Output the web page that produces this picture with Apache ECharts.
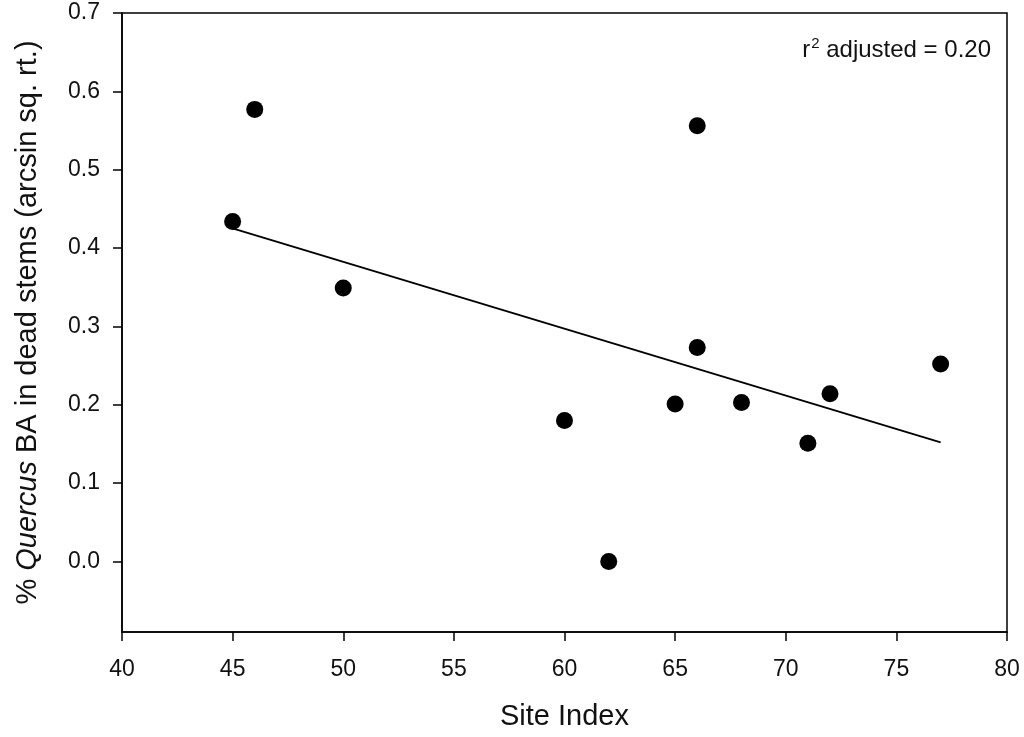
<!DOCTYPE html>
<html>
<head>
<meta charset="utf-8">
<script src="https://cdn.jsdelivr.net/npm/echarts@6/dist/echarts.min.js"></script>
<style>html,body{margin:0;padding:0;background:#fff;}#c{width:1024px;height:737px;}</style>
</head>
<body>
<div id="c"></div>
<script>
const siteIndex = [45, 46, 50, 60, 62, 65, 66, 66, 68, 71, 72, 77];
const quercusDead = [0.434, 0.577, 0.349, 0.180, 0.000, 0.201, 0.556, 0.273, 0.203, 0.151, 0.214, 0.252];
const fitX = [45, 77];
const fitY = [0.425, 0.152];
const yTicks = [0, 0.1, 0.2, 0.3, 0.4, 0.5, 0.6, 0.7];
const xTicks = [40, 45, 50, 55, 60, 65, 70, 75, 80];
const annotation = 'adjusted = 0.20';

const FONT = '"Liberation Sans", Arial, sans-serif';
const chart = echarts.init(document.getElementById('c'));
chart.setOption({
  backgroundColor: '#fff',
  animation: false,
  grid: { left: 122, top: 13, right: 17, bottom: 105, show: true, borderColor: '#000', borderWidth: 1.5, backgroundColor: 'transparent' },
  xAxis: {
    type: 'value', min: 40, max: 80,
    name: 'Site Index', nameLocation: 'middle', nameGap: 70,
    nameTextStyle: { fontFamily: FONT, fontSize: 29, color: '#111' },
    axisLine: { show: true, onZero: false, lineStyle: { color: '#000', width: 1.5 } },
    axisTick: { show: true, inside: false, length: 9, lineStyle: { color: '#000', width: 1.5 }, customValues: xTicks },
    axisLabel: { fontFamily: FONT, fontSize: 23, color: '#111', margin: 26, customValues: xTicks },
    splitLine: { show: false }
  },
  yAxis: {
    type: 'value', min: -0.09, max: 0.7,
    name: '{n|% }{i|Quercus}{n| BA in dead stems (arcsin sq. rt.)}',
    nameLocation: 'middle', nameGap: 80, nameRotate: 90,
    nameTextStyle: { fontFamily: FONT, fontSize: 29, color: '#111',
      rich: { n: { fontFamily: FONT, fontSize: 29, color: '#111' }, i: { fontFamily: FONT, fontSize: 29, color: '#111', fontStyle: 'italic' } } },
    axisLine: { show: true, onZero: false, lineStyle: { color: '#000', width: 1.5 } },
    axisTick: { show: true, inside: false, length: 9, lineStyle: { color: '#000', width: 1.5 }, customValues: yTicks },
    axisLabel: { fontFamily: FONT, fontSize: 23, color: '#111', margin: 22, customValues: yTicks, formatter: v => v.toFixed(1) },
    splitLine: { show: false }
  },
  series: [
    {
      type: 'line', data: fitX.map((x, i) => [x, fitY[i]]),
      showSymbol: false, symbol: 'none', lineStyle: { color: '#000', width: 1.8 }, z: 2, silent: true
    },
    {
      type: 'scatter', data: siteIndex.map((x, i) => [x, quercusDead[i]]),
      symbol: 'circle', symbolSize: 17, itemStyle: { color: '#000', opacity: 1 }, z: 3
    }
  ],
  graphic: [{
    type: 'text', right: 33, top: 36,
    style: {
      text: '{r|r}{s|2}{n| ' + annotation + '}',
      rich: {
        r: { fontFamily: FONT, fontSize: 24, fill: '#111', verticalAlign: 'bottom', lineHeight: 26 },
        s: { fontFamily: FONT, fontSize: 15, fill: '#111', verticalAlign: 'top', lineHeight: 26, padding: [0, 0, 0, 1] },
        n: { fontFamily: FONT, fontSize: 24, fill: '#111', verticalAlign: 'bottom', lineHeight: 26 }
      }
    }
  }]
});
</script>
</body>
</html>
